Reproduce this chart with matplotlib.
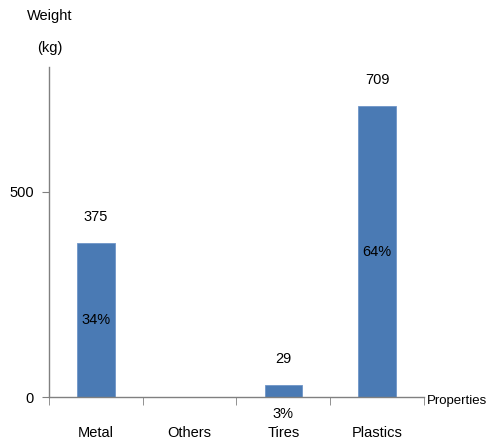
import matplotlib
matplotlib.use("Agg")
import matplotlib.pyplot as plt
from matplotlib.ticker import FixedLocator

plt.rcParams['font.family'] = ['Liberation Sans', 'DejaVu Sans']
FS = 10.5

# data
categories = ["Metal", "Others", "Tires", "Plastics"]
weights = [375, 0, 29, 709]
value_labels = ["375", "", "29", "709"]
share_labels = ["34%", "", "3%", "64%"]

fig = plt.figure(figsize=(4.93, 4.43), dpi=100)
ax = fig.add_axes([0.0994, 0.1038, 0.7606, 0.7453])

xs = range(len(categories))
ax.bar(xs, weights, width=0.4, color="#4a7ab4", edgecolor="#6f95c8", linewidth=0.6)

ax.set_xlim(-0.5, len(categories) - 0.5)
ax.set_ylim(0, 805)

# category labels between boundary ticks
ax.set_xticks(list(xs))
ax.set_xticklabels(categories, fontsize=FS)
ax.tick_params(axis="x", length=0, pad=21)
ax.xaxis.set_minor_locator(FixedLocator([i - 0.5 for i in range(len(categories) + 1)]))
ax.tick_params(axis="x", which="minor", length=6, direction="out", color="#808080")

ax.set_yticks([0, 500])
ax.set_yticklabels(["0", "500"], fontsize=FS)
ax.tick_params(axis="y", length=5, color="#808080", pad=6)

for side in ("top", "right"):
    ax.spines[side].set_visible(False)
for side in ("left", "bottom"):
    ax.spines[side].set_color("#808080")
    ax.spines[side].set_linewidth(1.0)

for x, w, vl, sl in zip(xs, weights, value_labels, share_labels):
    if vl:
        ax.annotate(vl, (x, w), xytext=(0, 19), textcoords="offset points",
                    ha="center", va="center", fontsize=FS)
    if sl:
        if w > 100:
            ax.text(x, w / 2, sl, ha="center", va="center", fontsize=FS)
        else:
            ax.annotate(sl, (x, 0), xytext=(0, -12), textcoords="offset points",
                        ha="center", va="center", fontsize=FS)

fig.text(50 / 493, 1 - 16 / 443, "Weight", ha="center", va="center", fontsize=FS)
fig.text(50 / 493, 1 - 48 / 443, "(kg)", ha="center", va="center", fontsize=FS)
fig.text(427 / 493, 1 - 401 / 443, "Properties", ha="left", va="center", fontsize=9.5)

fig.savefig("out.png", dpi=100)
